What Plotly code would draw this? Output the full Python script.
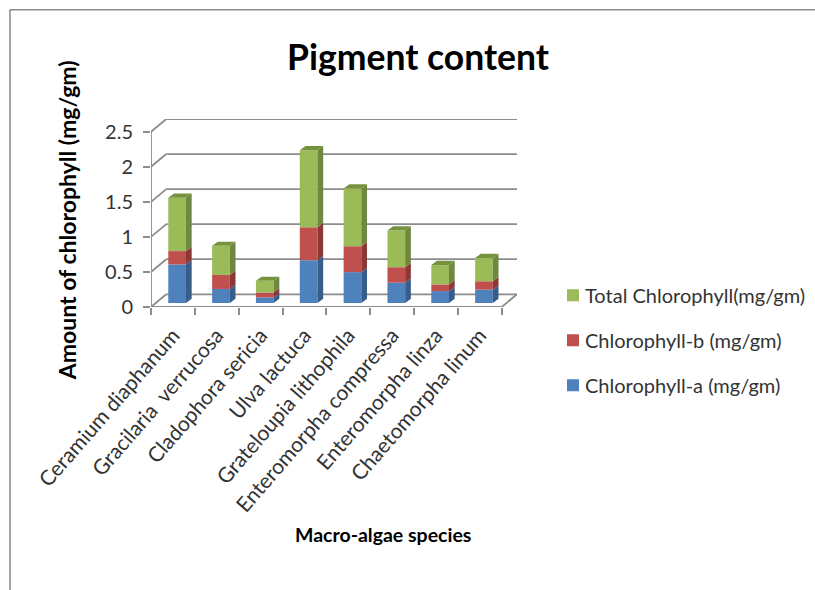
import plotly.graph_objects as go

species = ["Ceramium diaphanum", "Gracilaria\u00a0 verrucosa", "Cladophora sericia", "Ulva lactuca",
           "Grateloupia lithophila", "Enteromorpha compressa", "Enteromorpha linza", "Chaetomorpha linum"]
chl_a = [0.55, 0.20, 0.08, 0.61, 0.44, 0.29, 0.17, 0.19]
chl_b = [0.19, 0.20, 0.07, 0.47, 0.37, 0.22, 0.095, 0.12]
chl_total = [0.76, 0.415, 0.166, 1.10, 0.824, 0.523, 0.276, 0.333]
y_ticks = [0, 0.5, 1, 1.5, 2, 2.5]
y_tick_labels = ["0", "0.5", "1", "1.5", "2", "2.5"]

W, H = 815, 590
X0, X_FRONT_END, X_END = 151.0, 501.7, 517.0
Y0, Y_TOP = 306.7, 119.0
PX_UNIT_X = (X_FRONT_END - X0) / 8
PX_UNIT_Y = 70.0
WALL_DX, WALL_DY = (X_END - X_FRONT_END) / PX_UNIT_X, 12.7 / PX_UNIT_Y
BAR_SHIFT = 4.2 / PX_UNIT_X
FLOOR = 4.0 / PX_UNIT_Y
BAR_W = 17.7 / PX_UNIT_X
DEPTH_X, DEPTH_Y = 5.7 / PX_UNIT_X, 4.2 / PX_UNIT_Y
GREY = "#8C8C8C"
FONT = "Lato"

series = [
    ("Chlorophyll-a (mg/gm)", chl_a, "#4F81BD", "#385D8A", "#385D8A"),
    ("Chlorophyll-b (mg/gm)", chl_b, "#C0504D", "#8C3836", "#8C3836"),
    ("Total Chlorophyll(mg/gm)", chl_total, "#9BBB59", "#6F8741", "#76923C"),
]

fig = go.Figure()
xs = [i + BAR_SHIFT for i in range(len(species))]
bases = [FLOOR] * len(species)
faces = []
for idx, (name, vals, col, side, top) in enumerate(series):
    fig.add_trace(go.Bar(x=xs, y=vals, base=list(bases), width=BAR_W, name=name,
                         marker=dict(color=col, line=dict(width=0)), legendgroup=name,
                         legendrank=100 * (len(series) - idx)))
    sx, sy, tx, ty = [], [], [], []
    for x, b, v in zip(xs, bases, vals):
        r = x + BAR_W / 2
        l = x - BAR_W / 2
        t = b + v
        sx += [r, r + DEPTH_X, r + DEPTH_X, r, r, None]
        sy += [b, b + DEPTH_Y, t + DEPTH_Y, t, b, None]
        tx += [l, l + DEPTH_X, r + DEPTH_X, r, l, None]
        ty += [t, t + DEPTH_Y, t + DEPTH_Y, t, t, None]
    faces.append((sx, sy, side))
    if idx == len(series) - 1:
        faces.append((tx, ty, top))
    bases = [b + v for b, v in zip(bases, vals)]

for fx, fy, c in faces:
    fig.add_trace(go.Scatter(x=fx, y=fy, mode="lines", fill="toself", fillcolor=c,
                             line=dict(width=0, color=c), hoverinfo="skip", showlegend=False))

# Chart frame and 3D walls
shapes = []
line = dict(color=GREY, width=1.8)
xl, xr = -0.5, 7.5
for v in y_ticks:
    shapes.append(dict(type="line", layer="below", xref="x", yref="y", x0=xl, y0=v,
                       x1=xl + WALL_DX, y1=v + WALL_DY, line=line))
    shapes.append(dict(type="line", layer="below", xref="x", yref="y", x0=xl + WALL_DX, y0=v + WALL_DY,
                       x1=xr + WALL_DX, y1=v + WALL_DY, line=line))
shapes.append(dict(type="line", layer="below", xref="x", yref="y", x0=xr, y0=0,
                   x1=xr + WALL_DX, y1=WALL_DY, line=line))
shapes.append(dict(type="line", layer="below", xref="x", yref="y", x0=xl, y0=0, x1=xr, y1=0, line=line))
shapes.append(dict(type="line", layer="below", xref="x", yref="y", x0=xl, y0=0, x1=xl, y1=2.5, line=line))

plot_w, plot_h = X_END - X0, Y0 - Y_TOP
px = lambda p: (p - X0) / plot_w
py = lambda p: (Y0 - p) / plot_h
shapes.append(dict(type="line", xref="paper", yref="paper", x0=px(10), x1=px(10), y0=py(10), y1=py(590),
                   line=dict(color="#8A8A8A", width=1.5)))
shapes.append(dict(type="line", xref="paper", yref="paper", x0=px(10), x1=px(815), y0=py(10), y1=py(10),
                   line=dict(color="#8A8A8A", width=1.5)))

annotations = [
    dict(text="<b>Macro-algae species</b>", xref="paper", yref="paper", x=px(383), y=py(534), showarrow=False,
         xanchor="center", yanchor="middle", font=dict(family=FONT, size=19.5, color="#000")),
    dict(text="<b>Amount of chlorophyll (mg/gm)</b>", xref="paper", yref="paper", x=px(67), y=py(220),
         showarrow=False, textangle=-90, xanchor="center", yanchor="middle",
         font=dict(family=FONT, size=23, color="#000")),
]

fig.update_layout(
    width=W, height=H, autosize=False,
    margin=dict(l=X0, r=W - X_END, t=Y_TOP, b=H - Y0, pad=0, autoexpand=False),
    paper_bgcolor="#fff", plot_bgcolor="rgba(0,0,0,0)",
    barmode="overlay",
    title=dict(text="<b>Pigment content</b>", x=418 / W, xanchor="center", y=1 - 58 / H, yanchor="middle",
               font=dict(family=FONT, size=35.5, color="#000")),
    shapes=shapes, annotations=annotations,
    legend=dict(x=px(553), y=py(275.5), xanchor="left", yanchor="top", traceorder="grouped",
                tracegroupgap=16, bgcolor="rgba(0,0,0,0)",
                font=dict(family=FONT, size=20, color="#333")),
    xaxis=dict(range=[xl, xl + plot_w / PX_UNIT_X], showgrid=False, zeroline=False, showline=False,
               tickmode="array", tickvals=list(range(len(species))), ticktext=species, tickangle=-49,
               ticks="", ticklabelstandoff=11, tickfont=dict(family=FONT, size=21, color="#333"),
               minor=dict(tickmode="linear", tick0=-0.5, dtick=1, ticks="outside", ticklen=7,
                          tickwidth=1.8, tickcolor=GREY)),
    yaxis=dict(range=[0, plot_h / PX_UNIT_Y], showgrid=False, zeroline=False, showline=False,
               tickmode="array", tickvals=y_ticks, ticktext=y_tick_labels, ticks="outside", ticklen=7,
               ticklabelstandoff=6,
               tickwidth=1.8, tickcolor=GREY, tickfont=dict(family=FONT, size=20, color="#333")),
)
fig.write_html("out.html", config=dict(displayModeBar=False), post_script=(
    "document.body.style.margin='0';"
    "document.querySelectorAll('.legendtext').forEach(t=>t.setAttribute('x','32'));"
))
